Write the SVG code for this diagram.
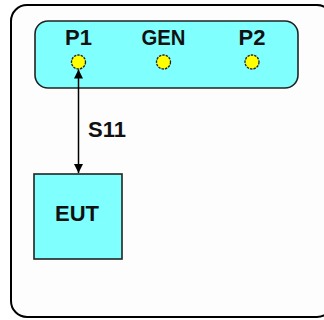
<svg xmlns="http://www.w3.org/2000/svg" width="324" height="320" viewBox="0 0 324 320">
<style>
.lbl{font-family:"Liberation Sans",Arial,sans-serif;font-weight:bold;font-size:22px;fill:#111}
.box{fill:#80ffff;stroke:#222;stroke-width:1.6}
.port{fill:#ffff00;stroke:#222;stroke-width:1.3;stroke-dasharray:2.5 1}
</style>
<defs>
<marker id="ah" viewBox="0 0 10 10" refX="10" refY="5" markerWidth="9" markerHeight="9" markerUnits="userSpaceOnUse" orient="auto-start-reverse">
<path d="M0,0 L10,5 L0,10 z" fill="#000"/>
</marker>
</defs>
<rect width="324" height="320" fill="#fff"/>
<g id="frame">
<rect x="11" y="5" width="322" height="312" rx="16" fill="#fdfdfd" stroke="#000" stroke-width="2"/>
</g>
<g id="generator">
<rect class="box" x="35" y="21" width="263" height="67" rx="13"/>
<text class="lbl" x="78.5" y="45" text-anchor="middle">P1</text>
<text class="lbl" x="163.5" y="45" text-anchor="middle" textLength="44" lengthAdjust="spacingAndGlyphs">GEN</text>
<text class="lbl" x="252" y="45" text-anchor="middle">P2</text>
<circle id="p1" class="port" cx="78.5" cy="62" r="7"/>
<circle id="gen" class="port" cx="163.5" cy="62" r="7"/>
<circle id="p2" class="port" cx="252" cy="62" r="7"/>
</g>
<g id="eut">
<rect class="box" x="34" y="174" width="88" height="85"/>
<text class="lbl" x="77" y="221" text-anchor="middle">EUT</text>
</g>
<g id="connectors">
<line x1="78.5" y1="69.5" x2="78.5" y2="173" stroke="#000" stroke-width="1.5" marker-start="url(#ah)" marker-end="url(#ah)"/>
<text class="lbl" x="88" y="137">S11</text>
</g>
</svg>
